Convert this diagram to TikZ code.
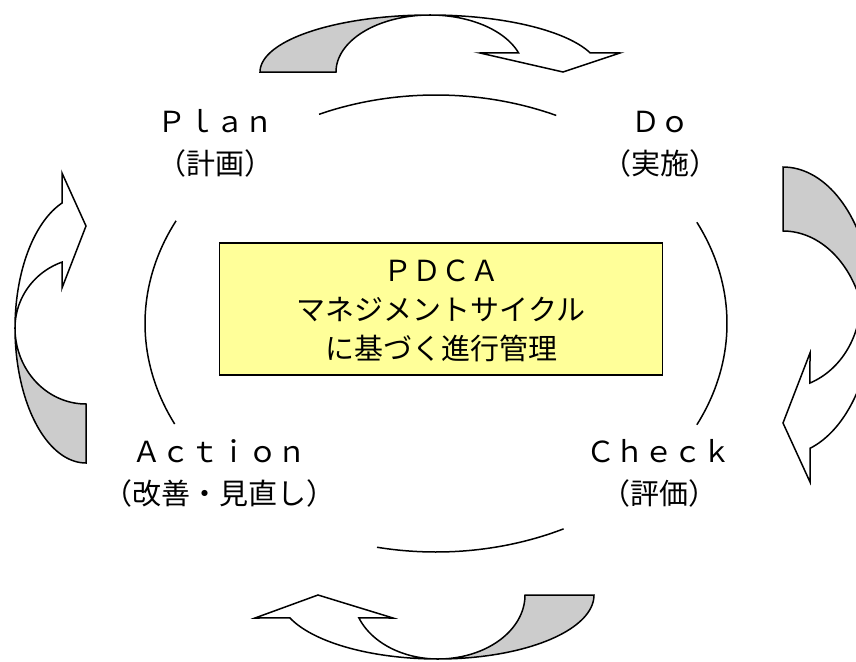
\documentclass[tikz,border=0pt]{standalone}
\usepackage{fontspec}
\setmainfont{Noto Sans CJK JP}
\definecolor{boxyellow}{HTML}{FFFF99}
\definecolor{backgrey}{HTML}{CCCCCC}
\begin{document}
\begin{tikzpicture}[x=1pt,y=-1pt,
  lbl/.style={anchor=base,font=\fontsize{29}{35}\selectfont,inner sep=0pt},
  ring/.style={line width=1.5pt},
  band/.style={draw=black,line width=1.5pt,line join=miter},
  backface/.style={band,fill=backgrey},
  frontface/.style={band,fill=white}]
\useasboundingbox (0,0) rectangle (856,661);
\fill[white] (0,0) rectangle (856,661);
\clip (0,0) rectangle (856,661);

% ring arcs (one ellipse)
\draw[ring] plot[domain=246.3:294.4,samples=40] ({436+291*cos(\x)},{323.5+228.5*sin(\x)});
\draw[ring] plot[domain=64:101.7,samples=40] ({436+291*cos(\x)},{323.5+228.5*sin(\x)});
\draw[ring] plot[domain=153.9:206.7,samples=40] ({436+291*cos(\x)},{323.5+228.5*sin(\x)});
\draw[ring] plot[domain=-26.3:26.3,samples=40] ({436+291*cos(\x)},{323.5+228.5*sin(\x)});

% top curved arrow
\path[backface] plot[domain=180:270,samples=40] ({430+170*cos(\x)},{72+57*sin(\x)})
  -- plot[domain=270:180,samples=40] ({430+94*cos(\x)},{72+57*sin(\x)}) -- cycle;
\path[frontface] plot[domain=270:340.5,samples=40] ({430+170*cos(\x)},{72+57*sin(\x)})
  -- (620,53) -- (563,72) -- (480,53)
  -- plot[domain=340.5:270,samples=40] ({430+94*cos(\x)},{72+57*sin(\x)}) -- cycle;

% right curved arrow
\path[backface] plot[domain=270:360,samples=40] ({783+90*cos(\x)},{310+143*sin(\x)})
  -- plot[domain=0:-90,samples=40] ({783+83*cos(\x)},{340+109*sin(\x)}) -- cycle;
\path[frontface] plot[domain=0:72.54,samples=40] ({783+90*cos(\x)},{310+145*sin(\x)})
  -- (810,482) -- (783,423) -- (810,353)
  -- plot[domain=69.7:0,samples=40] ({783+77.7*cos(\x)},{300+88.5*sin(\x)}) -- cycle;

% bottom curved arrow
\path[backface] plot[domain=0:90,samples=40] ({438+156*cos(\x)},{595+64*sin(\x)})
  -- plot[domain=90:0,samples=40] ({438+87*cos(\x)},{595+64*sin(\x)}) -- cycle;
\path[frontface] plot[domain=90:159,samples=40] ({438+158.6*cos(\x)},{595+64*sin(\x)})
  -- (255,618) -- (318,595) -- (393,618)
  -- plot[domain=159:90,samples=40] ({438+84.7*cos(\x)},{595+64*sin(\x)}) -- cycle;

% left curved arrow
\path[backface] plot[domain=90:180,samples=40] ({86+71*cos(\x)},{328+135*sin(\x)})
  -- plot[domain=180:90,samples=40] ({86+71*cos(\x)},{328+76*sin(\x)}) -- cycle;
\path[frontface] plot[domain=180:250.25,samples=40] ({86+71*cos(\x)},{328+132.8*sin(\x)})
  -- (62,173) -- (86,226) -- (62,288)
  -- plot[domain=250.25:180,samples=40] ({86+71*cos(\x)},{328+70*sin(\x)}) -- cycle;

% central box
\node[draw,fill=boxyellow,line width=1.4pt,minimum width=443pt,minimum height=132pt,inner sep=0pt] (box) at (441,309) {};
\node[lbl] (pdca) at (441,281) {ＰＤＣＡ};
\node[lbl] (cycle) at (441,320) {マネジメントサイクル};
\node[lbl] (mgmt) at (441,359) {に基づく進行管理};

% stage labels
\node[lbl] (plan) at (215,132) {Ｐｌａｎ};
\node[lbl] (planjp) at (215,174) {（計画）};
\node[lbl] (do) at (660,132) {Ｄｏ};
\node[lbl] (dojp) at (660,174) {（実施）};
\node[lbl] (act) at (219,462) {Ａｃｔｉｏｎ};
\node[lbl] (actjp) at (219,504) {（改善・見直し）};
\node[lbl] (check) at (659,462) {Ｃｈｅｃｋ};
\node[lbl] (checkjp) at (659,504) {（評価）};
\end{tikzpicture}
\end{document}
